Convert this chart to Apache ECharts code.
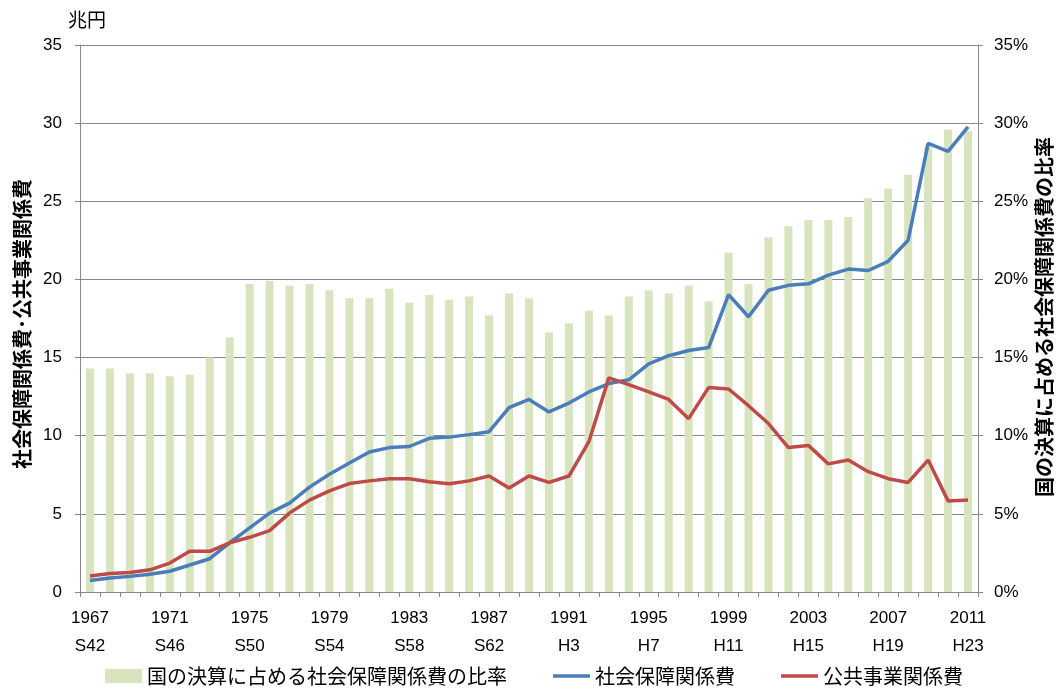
<!DOCTYPE html>
<html>
<head>
<meta charset="utf-8">
<script src="https://cdn.jsdelivr.net/npm/echarts@6/dist/echarts.min.js"></script>
<style>
  html, body { margin: 0; padding: 0; background: #fff; }
  #main { width: 1056px; height: 690px; }
</style>
</head>
<body>
<div id="main"></div>
<script>
var years = ['1967','1968','1969','1970','1971','1972','1973','1974','1975','1976',
             '1977','1978','1979','1980','1981','1982','1983','1984','1985','1986',
             '1987','1988','1989','1990','1991','1992','1993','1994','1995','1996',
             '1997','1998','1999','2000','2001','2002','2003','2004','2005','2006',
             '2007','2008','2009','2010','2011'];
var eras = ['S42','S43','S44','S45','S46','S47','S48','S49','S50','S51',
            'S52','S53','S54','S55','S56','S57','S58','S59','S60','S61',
            'S62','S63','H1','H2','H3','H4','H5','H6','H7','H8',
            'H9','H10','H11','H12','H13','H14','H15','H16','H17','H18',
            'H19','H20','H21','H22','H23'];

// 国の決算に占める社会保障関係費の比率 (%)
var ratio = [14.3, 14.3, 14.0, 14.0, 13.8, 13.9, 15.0, 16.3, 19.7, 19.9,
             19.6, 19.7, 19.3, 18.8, 18.8, 19.4, 18.5, 19.0, 18.7, 18.9,
             17.7, 19.1, 18.8, 16.6, 17.2, 18.0, 17.7, 18.9, 19.3, 19.1,
             19.6, 18.6, 21.7, 19.7, 22.7, 23.4, 23.8, 23.8, 24.0, 25.2,
             25.8, 26.7, 28.5, 29.6, 29.5];
// 社会保障関係費 (兆円)
var social = [0.73, 0.9, 1.0, 1.14, 1.33, 1.73, 2.13, 3.15, 4.1, 5.05,
              5.69, 6.71, 7.54, 8.25, 8.96, 9.24, 9.31, 9.83, 9.91, 10.07,
              10.26, 11.8, 12.32, 11.52, 12.09, 12.8, 13.34, 13.58, 14.6, 15.12,
              15.45, 15.64, 19.03, 17.61, 19.31, 19.62, 19.72, 20.28, 20.66, 20.57,
              21.16, 22.51, 28.7, 28.2, 29.76];
// 公共事業関係費 (兆円)
var publicWorks = [1.02, 1.18, 1.25, 1.42, 1.85, 2.6, 2.6, 3.15, 3.5, 3.93,
                   5.05, 5.88, 6.47, 6.94, 7.11, 7.25, 7.25, 7.06, 6.92, 7.11,
                   7.42, 6.66, 7.42, 7.01, 7.42, 9.62, 13.7, 13.27, 12.8, 12.32,
                   11.09, 13.08, 12.99, 11.92, 10.78, 9.24, 9.38, 8.2, 8.44, 7.7,
                   7.25, 7.01, 8.44, 5.83, 5.88];

var numFont = "'Liberation Sans', Arial, sans-serif";
var jpFont = "'Noto Sans CJK JP', sans-serif";
var axisGray = '#888888';
var lineIcon = 'path://M0,0H37V3.5H0Z';

var myChart = echarts.init(document.getElementById('main'), null, { renderer: 'canvas' });

var option = {
    animation: false,
    backgroundColor: '#ffffff',
    grid: { left: 80, right: 78, top: 45, bottom: 98 },
    legend: {
        left: 100,
        top: 661,
        itemWidth: 37,
        itemHeight: 14,
        itemGap: 46,
        symbolKeepAspect: true,
        textStyle: { fontSize: 20, fontFamily: jpFont, color: '#000' },
        data: [
            { name: '国の決算に占める社会保障関係費の比率', icon: 'rect' },
            { name: '社会保障関係費', icon: lineIcon },
            { name: '公共事業関係費', icon: lineIcon }
        ]
    },
    graphic: [
        {
            type: 'text', left: 68, top: 10,
            style: { text: '兆円', font: '19px ' + jpFont, fill: '#000' }
        },
        {
            type: 'text', x: 22, y: 324, rotation: Math.PI / 2,
            style: {
                text: '社会保障関係費･公共事業関係費',
                font: 'bold 20px ' + jpFont, fill: '#000',
                align: 'center', verticalAlign: 'middle',
                textAlign: 'center', textVerticalAlign: 'middle'
            }
        },
        {
            type: 'text', x: 1044, y: 317, rotation: Math.PI / 2,
            style: {
                text: '国の決算に占める社会保障関係費の比率',
                font: 'bold 20px ' + jpFont, fill: '#000',
                align: 'center', verticalAlign: 'middle',
                textAlign: 'center', textVerticalAlign: 'middle'
            }
        }
    ],
    xAxis: {
        type: 'category',
        data: years,
        boundaryGap: true,
        axisLine: { lineStyle: { color: axisGray, width: 1 } },
        axisTick: { show: true, interval: 0, length: 5, lineStyle: { color: axisGray } },
        axisLabel: {
            interval: 3,
            margin: 12,
            fontSize: 17,
            lineHeight: 28,
            color: '#000',
            fontFamily: numFont,
            formatter: function (value, index) {
                return years[index] + '\n' + eras[index];
            }
        }
    },
    yAxis: [
        {
            type: 'value',
            min: 0, max: 35, interval: 5,
            position: 'left',
            axisLine: { show: true, lineStyle: { color: axisGray, width: 1 } },
            axisTick: { show: true, length: 5, lineStyle: { color: axisGray } },
            axisLabel: { margin: 18, fontSize: 17, color: '#000', fontFamily: numFont },
            splitLine: { show: true, lineStyle: { color: axisGray, width: 1 } }
        },
        {
            type: 'value',
            min: 0, max: 35, interval: 5,
            position: 'right',
            axisLine: { show: true, lineStyle: { color: axisGray, width: 1 } },
            axisTick: { show: true, length: 5, lineStyle: { color: axisGray } },
            axisLabel: { margin: 16, fontSize: 17, color: '#000', fontFamily: numFont, formatter: '{value}%' },
            splitLine: { show: false }
        }
    ],
    series: [
        {
            name: '国の決算に占める社会保障関係費の比率',
            type: 'bar',
            yAxisIndex: 1,
            barWidth: 8,
            itemStyle: { color: '#D7E4BD' },
            data: ratio
        },
        {
            name: '社会保障関係費',
            type: 'line',
            yAxisIndex: 0,
            symbol: 'none',
            lineStyle: { color: '#4A7EBB', width: 3.5 },
            itemStyle: { color: '#4A7EBB' },
            data: social
        },
        {
            name: '公共事業関係費',
            type: 'line',
            yAxisIndex: 0,
            symbol: 'none',
            lineStyle: { color: '#BE4B48', width: 3.5 },
            itemStyle: { color: '#BE4B48' },
            data: publicWorks
        }
    ]
};

myChart.setOption(option);
</script>
</body>
</html>
